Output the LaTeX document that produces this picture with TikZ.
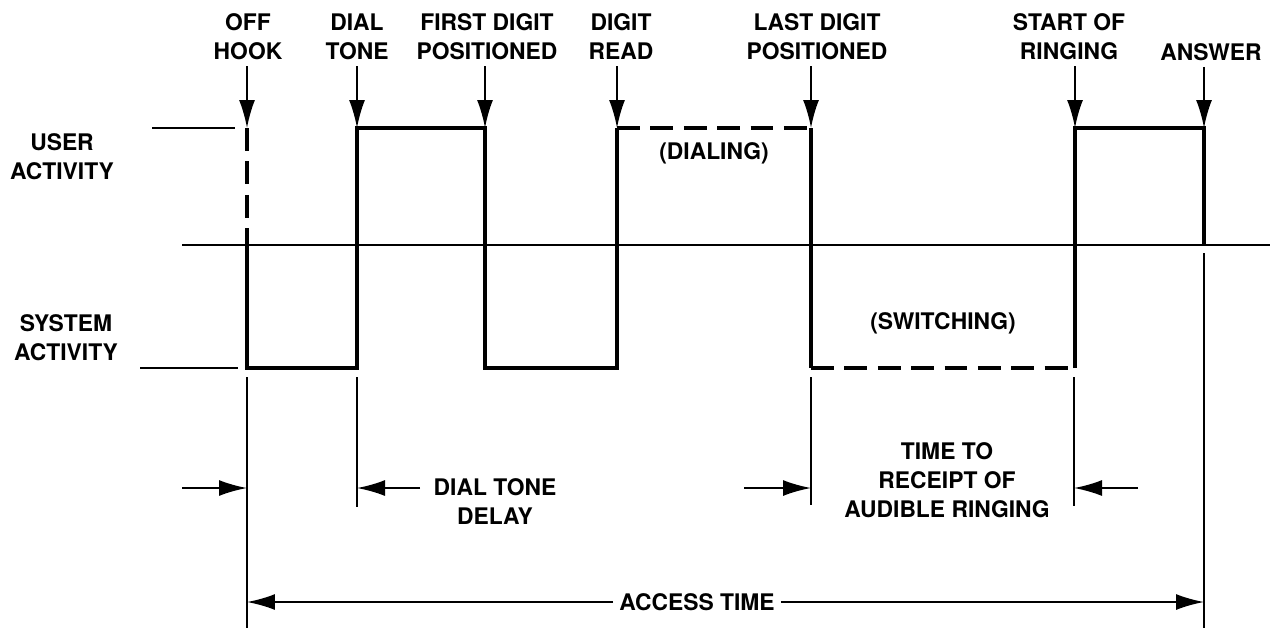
\documentclass[tikz,border=0pt]{standalone}
\usepackage{fontspec}
\setmainfont{TeX Gyre Heros}
\usetikzlibrary{arrows.meta, positioning, calc}

\begin{document}
\begin{tikzpicture}[x=0.02cm, y=-0.02cm,
  lbl/.style={font=\bfseries\fontsize{13}{16.5}\selectfont, align=center},
  sig/.style={line width=2pt},
  sigdash/.style={sig, dash pattern=on 13pt off 6pt},
  midline/.style={line width=1.2pt},
  ext/.style={line width=0.8pt},
  ptr/.style={-{Latex[length=5.6mm, width=3.2mm]}, line width=1.1pt}]
\useasboundingbox (0,0) rectangle (1273,629);

% instants on the user level
\coordinate (offhook) at (247,128);
\coordinate (dialtone) at (357,128);
\coordinate (firstdig) at (485,128);
\coordinate (digread) at (617,128);
\coordinate (lastdig) at (811,128);
\coordinate (ringing) at (1075,128);
\coordinate (answer) at (1204,128);

% event labels
\node[lbl] (lOff) at (248,37) {OFF\\HOOK};
\node[lbl] (lDial) at (357,37) {DIAL\\TONE};
\node[lbl] (lFirst) at (487,37) {FIRST DIGIT\\POSITIONED};
\node[lbl] (lRead) at (621,37) {DIGIT\\READ};
\node[lbl] (lLast) at (817,37) {LAST DIGIT\\POSITIONED};
\node[lbl] (lStart) at (1069,37) {START OF\\RINGING};
\node[lbl] (lAns) at (1211,52) {ANSWER};
\draw[ptr] (lOff.south -| offhook) -- (offhook);
\draw[ptr] (lDial.south -| dialtone) -- (dialtone);
\draw[ptr] (lFirst.south -| firstdig) -- (firstdig);
\draw[ptr] (lRead.south -| digread) -- (digread);
\draw[ptr] (lLast.south -| lastdig) -- (lastdig);
\draw[ptr] (lStart.south -| ringing) -- (ringing);
\draw[ptr] (lAns.south -| answer) -- (answer);

% activity levels
\node[lbl] (user) at (62,157) {USER\\ACTIVITY};
\node[lbl] (sys) at (66,338) {SYSTEM\\ACTIVITY};
\draw[midline] (152,128) -- (235,128);
\draw[midline] (140,368) -- (238,368);
\draw[midline] (182,245) -- (1270,245);

% the trace
\draw[sigdash] (offhook) -- (247,245);
\draw[sig] (247,245) -- (247,368) -- (357,368) -- (dialtone) -- (firstdig)
  -- (485,368) -- (617,368) -- (digread);
\draw[sigdash] (digread) -- (lastdig);
\draw[sig] (lastdig) -- (811,368);
\draw[sigdash] (811,368) -- (1075,368);
\draw[sig] (1075,368) -- (ringing) -- (answer) -- (1204,245);
\node[lbl] (dialing) at (714,153) {(DIALING)};
\node[lbl] (switching) at (943,323) {(SWITCHING)};

% extension lines
\coordinate (offB) at (247,628);
\coordinate (dtB) at (357,507);
\coordinate (ldB) at (811,505);
\coordinate (srB) at (1074,506);
\coordinate (anB) at (1204,628);
\draw[ext] (247,377) -- (offB);
\draw[ext] (357,377) -- (dtB);
\draw[ext] (811,377) -- (ldB);
\draw[ext] (1074,377) -- (srB);
\draw[ext] (1204,253) -- (anB);

% intervals
\node[lbl] (dtdelay) at (495,502) {DIAL TONE\\DELAY};
\node[lbl] (ringtime) at (947,480) {TIME TO\\RECEIPT OF\\AUDIBLE RINGING};
\node[lbl] (access) at (697,602) {ACCESS TIME};
\coordinate (dtL) at (182,488);
\coordinate (dtR) at (420,488);
\coordinate (rtL) at (744,488);
\coordinate (rtR) at (1138,488);
\draw[ptr] (dtL) -- (dtL -| offB);
\draw[ptr] (dtR) -- (dtR -| dtB);
\draw[ptr] (rtL) -- (rtL -| ldB);
\draw[ptr] (rtR) -- (rtR -| srB);
\draw[ptr] (access.west) -- (access.west -| offB);
\draw[ptr] (access.east) -- (access.east -| anB);
\end{tikzpicture}
\end{document}
